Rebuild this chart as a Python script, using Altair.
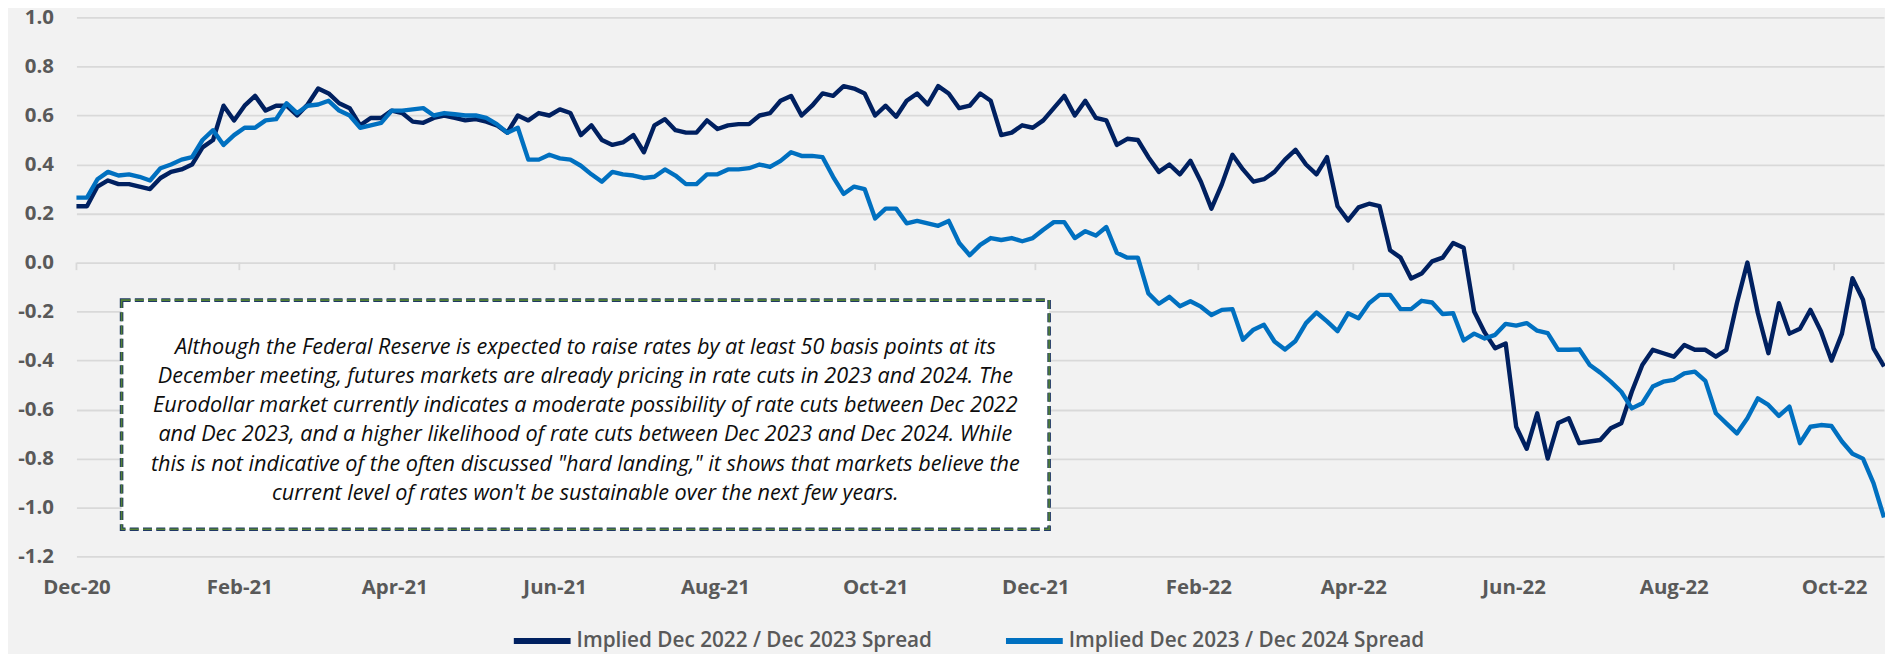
import altair as alt
import pandas as pd

# ---------------- data ----------------
series_names = ["Implied Dec 2022 / Dec 2023 Spread", "Implied Dec 2023 / Dec 2024 Spread"]
series_colors = ["#002060", "#0070C0"]

# observation dates (every 4 days, Dec 1 2020 -> Oct 20 2022)
sample_dates = pd.date_range("2020-12-01", "2022-10-20", freq="4D")

spread_22_23 = [
    0.23, 0.23, 0.31, 0.335, 0.32, 0.32, 0.31, 0.30, 0.345, 0.37,
    0.38, 0.40, 0.47, 0.50, 0.64, 0.58, 0.64, 0.68, 0.62, 0.64,
    0.64, 0.60, 0.645, 0.71, 0.69, 0.65, 0.63, 0.56, 0.59, 0.59,
    0.62, 0.61, 0.575, 0.57, 0.59, 0.60, 0.59, 0.58, 0.585, 0.575,
    0.56, 0.53, 0.60, 0.58, 0.61, 0.60, 0.625, 0.61, 0.52, 0.56,
    0.50, 0.48, 0.49, 0.52, 0.45, 0.56, 0.585, 0.54, 0.53, 0.53,
    0.58, 0.545, 0.56, 0.565, 0.565, 0.60, 0.61, 0.66, 0.68, 0.60,
    0.64, 0.69, 0.68, 0.72, 0.71, 0.69, 0.60, 0.64, 0.595, 0.66,
    0.69, 0.645, 0.72, 0.69, 0.63, 0.64, 0.69, 0.66, 0.52, 0.53,
    0.56, 0.55, 0.58, 0.63, 0.68, 0.60, 0.66, 0.59, 0.58, 0.48,
    0.505, 0.50, 0.43, 0.37, 0.40, 0.36, 0.415, 0.33, 0.22, 0.32,
    0.44, 0.38, 0.33, 0.34, 0.37, 0.42, 0.46, 0.40, 0.36, 0.43,
    0.23, 0.172, 0.225, 0.24, 0.23, 0.05, 0.02, -0.065, -0.045, 0.005,
    0.02, 0.08, 0.06, -0.20, -0.285, -0.35, -0.33, -0.67, -0.76, -0.615,
    -0.80, -0.655, -0.635, -0.737, -0.73, -0.724, -0.676, -0.656, -0.527, -0.418,
    -0.356, -0.37, -0.384, -0.336, -0.356, -0.356, -0.384, -0.356, -0.166, 0.0,
    -0.207, -0.37, -0.166, -0.29, -0.27, -0.193, -0.28, -0.40, -0.29, -0.064,
    -0.152, -0.35, -0.424,
]

spread_23_24 = [
    0.265, 0.265, 0.34, 0.37, 0.355, 0.36, 0.35, 0.335, 0.385, 0.40,
    0.42, 0.43, 0.50, 0.54, 0.48, 0.52, 0.55, 0.55, 0.58, 0.585,
    0.65, 0.61, 0.64, 0.645, 0.66, 0.62, 0.60, 0.55, 0.56, 0.57,
    0.62, 0.62, 0.625, 0.63, 0.60, 0.61, 0.605, 0.60, 0.60, 0.59,
    0.565, 0.53, 0.55, 0.42, 0.42, 0.44, 0.425, 0.42, 0.395, 0.36,
    0.33, 0.37, 0.36, 0.355, 0.345, 0.35, 0.38, 0.355, 0.32, 0.32,
    0.36, 0.36, 0.38, 0.38, 0.385, 0.40, 0.39, 0.415, 0.45, 0.435,
    0.435, 0.43, 0.35, 0.28, 0.31, 0.30, 0.18, 0.22, 0.22, 0.16,
    0.17, 0.16, 0.15, 0.17, 0.08, 0.03, 0.072, 0.10, 0.092, 0.10,
    0.087, 0.10, 0.134, 0.165, 0.165, 0.10, 0.128, 0.11, 0.145, 0.04,
    0.02, 0.02, -0.126, -0.168, -0.14, -0.178, -0.158, -0.18, -0.214, -0.193,
    -0.19, -0.315, -0.274, -0.254, -0.322, -0.355, -0.32, -0.247, -0.204, -0.24,
    -0.28, -0.207, -0.227, -0.166, -0.132, -0.132, -0.19, -0.19, -0.156, -0.163,
    -0.21, -0.207, -0.318, -0.29, -0.31, -0.295, -0.25, -0.257, -0.247, -0.278,
    -0.288, -0.356, -0.356, -0.354, -0.418, -0.449, -0.486, -0.527, -0.595, -0.574,
    -0.506, -0.486, -0.479, -0.452, -0.445, -0.483, -0.615, -0.656, -0.697, -0.635,
    -0.554, -0.581, -0.626, -0.588, -0.737, -0.67, -0.663, -0.667, -0.73, -0.78,
    -0.80, -0.90, -1.04,
]

# x-axis tick months (year, month)
tick_months = [(2020, 12), (2021, 2), (2021, 4), (2021, 6), (2021, 8), (2021, 10),
               (2021, 12), (2022, 2), (2022, 4), (2022, 6), (2022, 8), (2022, 10)]
y_ticks = [-1.2, -1.0, -0.8, -0.6, -0.4, -0.2, 0.0, 0.2, 0.4, 0.6, 0.8, 1.0]

note_lines = [
    "Although the Federal Reserve is expected to raise rates by at least 50 basis points at its",
    "December meeting, futures markets are already pricing in rate cuts in 2023 and 2024. The",
    "Eurodollar market currently indicates a moderate possibility of rate cuts between Dec 2022",
    "and Dec 2023, and a higher likelihood of rate cuts between Dec 2023 and Dec 2024. While",
    "this is not indicative of the often discussed \"hard landing,\" it shows that markets believe the",
    "current level of rates won't be sustainable over the next few years.",
]

# ---------------- tables ----------------
n = len(sample_dates)
assert n == len(spread_22_23) == len(spread_23_24)
df = pd.DataFrame({
    "date": list(sample_dates) * 2,
    "value": spread_22_23 + spread_23_24,
    "series": [series_names[0]] * n + [series_names[1]] * n,
})
tick_df = pd.DataFrame({
    "date": [pd.Timestamp(year=y, month=m, day=1) for y, m in tick_months],
    "top": [0.0] * len(tick_months),
    "bottom": [-0.031] * len(tick_months),
})

GRID = "#D9D9D9"
LABEL = "#595959"
FONT = "Open Sans"
W, H = 1814.3, 541.2

x_scale = alt.Scale(domain=[alt.DateTime(year=2020, month=12, date=1),
                            alt.DateTime(year=2022, month=10, date=20)])
y_scale = alt.Scale(domain=[-1.2, 1.0], nice=False, zero=False)

x_axis = alt.Axis(
    values=[alt.DateTime(year=y, month=m, date=1) for y, m in tick_months],
    format="%b-%y", title=None, grid=False, domain=False, ticks=False, tickSize=0,
    labelFont=FONT, labelFontWeight="bold", labelFontSize=20.5, labelColor=LABEL,
    labelPadding=31, labelBaseline="middle", labelFlush=False, labelOverlap=False,
)
y_axis = alt.Axis(
    values=y_ticks, title=None, grid=True, gridColor=GRID, gridWidth=1.8,
    domain=False, ticks=False, tickSize=0,
    labelExpr="replace(format(datum.value, '.1f'), '\u2212', '-')",
    labelFont=FONT, labelFontWeight="bold", labelFontSize=20.5, labelColor=LABEL,
    labelPadding=23,
)

lines = alt.Chart(df).mark_line(strokeWidth=4.4, strokeJoin="round").encode(
    x=alt.X("date:T", scale=x_scale, axis=x_axis),
    y=alt.Y("value:Q", scale=y_scale, axis=y_axis),
    color=alt.Color(
        "series:N",
        scale=alt.Scale(domain=series_names, range=series_colors),
        sort=series_names,
        legend=alt.Legend(
            orient="none", legendX=436, legendY=594, direction="horizontal",
            title=None, symbolType="stroke", symbolSize=3249, symbolStrokeWidth=6,
            labelFont=FONT, labelFontWeight=600, labelFontSize=20.8,
            labelColor=LABEL, labelOffset=3, columnPadding=62, labelLimit=600,
        ),
    ),
)

ticks = alt.Chart(tick_df).mark_rule(color=GRID, strokeWidth=1.8).encode(
    x="date:T", y="top:Q", y2="bottom:Q",
)

one_row = alt.Data(values=[{"k": 1}])
box_outline = alt.Chart(one_row).mark_rect(
    fill="white", stroke="#1F3864", strokeWidth=3.6, strokeDash=[9, 4.3],
).encode(x=alt.value(45.3), x2=alt.value(976.3), y=alt.value(283.7), y2=alt.value(513.7))
box_dash = alt.Chart(one_row).mark_rect(
    fill="transparent", stroke="#548235", strokeWidth=1.6, strokeDash=[9, 4.3],
).encode(x=alt.value(45.3), x2=alt.value(976.3), y=alt.value(283.7), y2=alt.value(513.7))
note = alt.Chart(one_row).mark_text(
    text=note_lines, align="center", baseline="middle", font=FONT,
    fontStyle="italic", fontSize=21.7, lineHeight=29.2, color="#0D0D0D",
).encode(x=alt.value(510.8), y=alt.value(331))

chart = alt.layer(ticks, lines, box_outline, box_dash, note).properties(
    width=W, height=H,
    padding={"left": 68.7, "top": 8.3, "right": 1, "bottom": 96.5},
    autosize=alt.AutoSizeParams(type="none"),
    background="#F2F2F2",
).configure_view(stroke=None)

chart.save("out.html", embed_options={"renderer": "svg", "actions": False})
